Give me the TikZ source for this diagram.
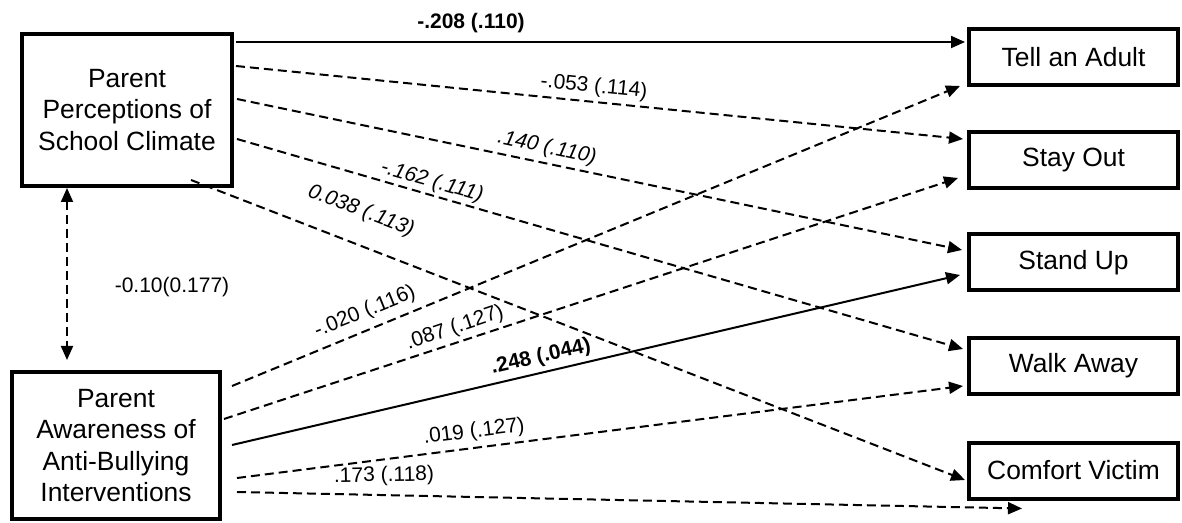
\documentclass[tikz,border=0pt]{standalone}
\usepackage{fontspec}
\setmainfont{Liberation Sans}
\usetikzlibrary{arrows.meta}

\begin{document}
\begin{tikzpicture}[x=0.5pt,y=-0.5pt,
    every node/.style={font=\fontsize{10.5}{12}\selectfont},
    varbox/.style={draw,line width=2pt,align=center,inner sep=2pt,
      font=\fontsize{13.2}{15.6}\selectfont},
    outbox/.style={varbox,minimum width=104.5pt,minimum height=28pt},
    effect/.style={line width=1pt,-{Triangle[length=7pt,width=6pt]}},
    nonsig/.style={effect,dash pattern=on 4.5pt off 2.5pt},
    coefbf/.style={font=\bfseries\fontsize{10.5}{12}\selectfont},
    coefit/.style={font=\itshape\fontsize{10.5}{12}\selectfont}]
  \useasboundingbox (0,0) rectangle (1182,523);
  % predictors
  \node[varbox,minimum width=105pt,minimum height=76pt] (climate) at (127,110)
    {Parent\\Perceptions of\\School Climate};
  \node[varbox,minimum width=104pt,minimum height=73.5pt] (aware) at (116,445.5)
    {Parent\\Awareness of\\Anti-Bullying\\Interventions};
  % outcomes
  \node[outbox] (tell) at (1073.5,57) {Tell an Adult};
  \node[outbox] (stayout) at (1073.5,160) {Stay Out};
  \node[outbox] (standup) at (1073.5,262.5) {Stand Up};
  \node[outbox] (walk) at (1073.5,366) {Walk Away};
  \node[outbox] (comfort) at (1073.5,470.5) {Comfort Victim};
  % covariance between predictors
  \draw[nonsig,{Triangle[length=7pt,width=6pt]}-{Triangle[length=7pt,width=6pt]}]
    ([xshift=-30pt]climate.south) -- ([xshift=-24.5pt,yshift=5pt]aware.north);
  \node (cov) at (172,287) {-0.10(0.177)};
  % paths from school climate
  \draw[effect] ([xshift=1pt,yshift=34pt]climate.east) -- ([xshift=-1pt,yshift=7.5pt]tell.west);
  \draw[nonsig] ([xshift=1pt,yshift=22pt]climate.east) -- ([xshift=-2pt,yshift=10.5pt]stayout.west);
  \draw[nonsig] ([xshift=1.5pt,yshift=5.5pt]climate.east) -- ([xshift=-2.5pt,yshift=6.25pt]standup.west);
  \draw[nonsig] ([xshift=1.5pt,yshift=-14.5pt]climate.east) -- ([xshift=-2pt,yshift=8.5pt]walk.west);
  \draw[nonsig] ([xshift=32pt,yshift=4pt]climate.south) -- ([xshift=-1pt,yshift=-4.75pt]comfort.west);
  \node[coefbf] (c-tell) at (471,23) {-.208 (.110)};
  \node[rotate=-5.7] (c-stay) at (594,87) {-.053 (.114)};
  \node[coefit,rotate=-12] (c-stand) at (547,148) {.140 (.110)};
  \node[coefit,rotate=-16] (c-walk) at (432,182) {-.162 (.111)};
  \node[coefit,rotate=-21] (c-comfort) at (361,211) {0.038 (.113)};
  % paths from anti-bullying awareness
  \draw[nonsig] ([xshift=5pt,yshift=29.75pt]aware.east) -- ([xshift=-3.5pt,yshift=-14.5pt]tell.west);
  \draw[nonsig] ([xshift=1pt,yshift=13.25pt]aware.east) -- ([xshift=-4.5pt,yshift=-9pt]stayout.west);
  \draw[effect] ([xshift=5pt,yshift=0.25pt]aware.east) -- ([xshift=-3.5pt,yshift=-6.25pt]standup.west);
  \draw[nonsig] ([xshift=7.5pt,yshift=-16.25pt]aware.east) -- ([xshift=-2pt,yshift=-10pt]walk.west);
  \draw[nonsig] ([xshift=7.5pt,yshift=-23.25pt]aware.east) -- ([xshift=-25.75pt,yshift=-4pt]comfort.south);
  \node[rotate=22] (a-tell) at (365,312) {-.020 (.116)};
  \node[rotate=18.5] (a-stay) at (455,328) {.087 (.127)};
  \node[coefbf,rotate=13] (a-stand) at (541,357) {.248 (.044)};
  \node[rotate=7] (a-walk) at (474,432) {.019 (.127)};
  \node[rotate=1] (a-comfort) at (384,476) {.173 (.118)};
\end{tikzpicture}
\end{document}
